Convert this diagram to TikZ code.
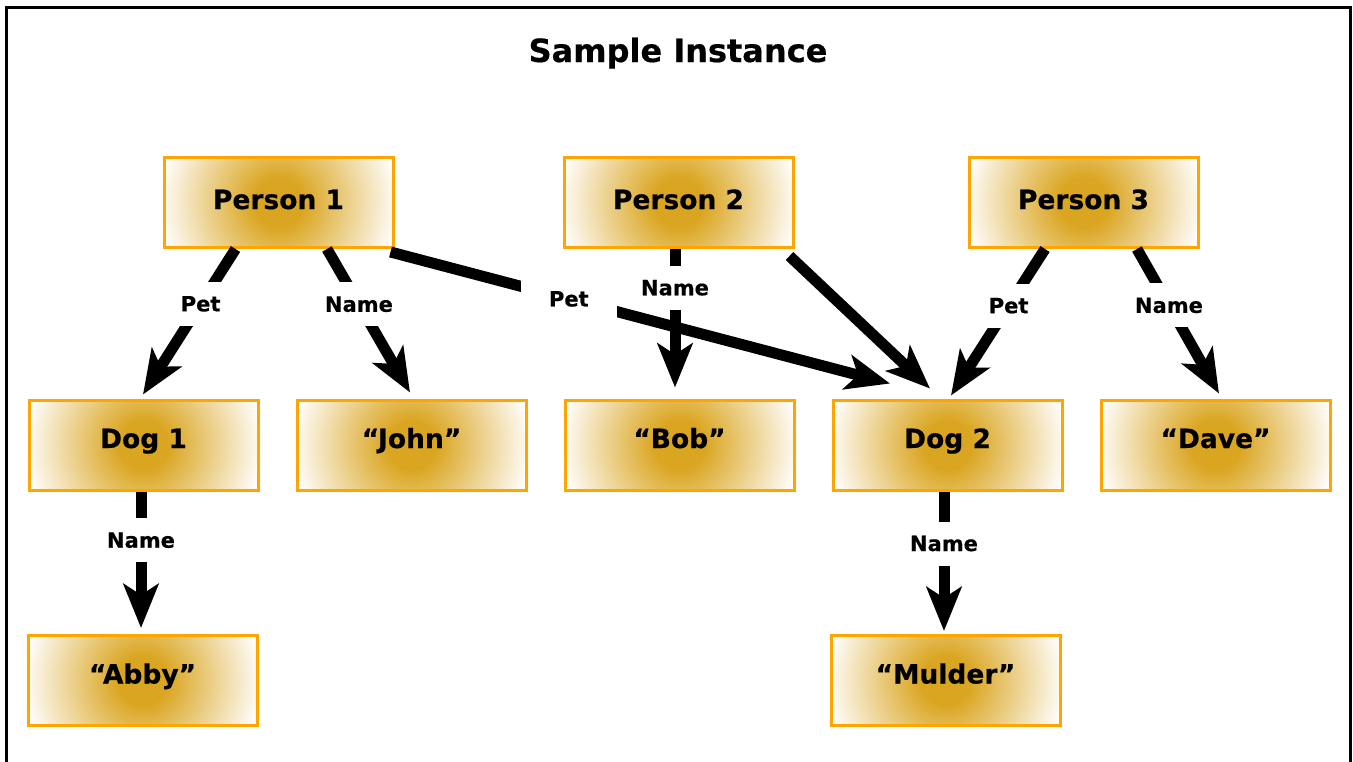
\documentclass[tikz,border=0pt]{standalone}
\usepackage{fontspec}
\setmainfont{DejaVu Sans}
\newfontfamily\heavy{DejaVu Sans Bold}[FakeBold=0.5]
\usetikzlibrary{arrows.meta,calc}
\definecolor{boxgold}{HTML}{DAA520}
\definecolor{boxline}{HTML}{FFA500}
\pgfdeclareradialshading{boxshade}{\pgfpointorigin}{color(0bp)=(boxgold); color(5bp)=(boxgold); color(25bp)=(white); color(50bp)=(white)}
\tikzset{
  item/.style={rectangle, draw=boxline, line width=3pt, minimum width=229pt, minimum height=90pt,
    inner sep=0pt, text height=20pt, text depth=14pt, font=\fontsize{26.5}{30}\selectfont\heavy,
    path picture={\shade[shading=boxshade] (path picture bounding box.center) circle[radius=121pt];}},
  person/.style={item, text depth=7pt},
  rel/.style={line width=11pt, -{Stealth[length=44pt,width=35pt,inset=11pt]}},
  lbl/.style={fill=white, minimum width=96pt, minimum height=44pt, inner sep=0pt,
    font=\fontsize{21}{24}\selectfont\heavy},
}
\begin{document}
\begin{tikzpicture}[x=1pt,y=-1pt]
\useasboundingbox (0,0) rectangle (1353,761);
\fill[white] (0,0) rectangle (1353,761);
\draw[line width=3pt] (6.5,800) -- (6.5,7.5) -- (1350.5,7.5) -- (1350.5,800);
\node[font=\fontsize{32}{38}\selectfont\heavy, anchor=base] (title) at (678,62) {Sample Instance};

\node[person] (p1) at (278.5,202.5) {Person 1};
\node[person] (p2) at (678.5,202.5) {Person 2};
\node[person] (p3) at (1083.5,202.5) {Person 3};
\node[item] (dog1) at (143.5,445) {Dog 1};
\node[item] (john) at (411.5,445) {“John”};
\node[item] (bob) at (679.5,445) {“Bob”};
\node[item] (dog2) at (947.5,445) {Dog 2};
\node[item] (dave) at (1215.5,445) {“Dave”};
\node[item] (abby) at (142.5,680.5) {“Abby”};
\node[item] (mulder) at (945.5,680.5) {“Mulder”};

\draw[rel] ($(p2.south)+(-3.5,0)$) -- node[lbl,pos=0.28,name=l4] {Name} ($(bob.north)+(-4.5,-11)$);
\draw[rel] ($(p1.south)+(-43,0)$) -- node[lbl,pos=0.377,name=l1] {Pet} ($(dog1.north)+(-0.5,-4)$);
\draw[rel] ($(p1.south)+(48.5,0)$) -- node[lbl,pos=0.385,name=l2] {Name} ($(john.north)+(-1.5,-6)$);
\draw[rel] ($(p1.south east)+(-4,3)$) -- node[lbl,pos=0.357,name=l3] {Pet} ($(dog2.north)+(-57.5,-15)$);
\draw[rel] ($(p2.south east)+(-5,7)$) -- ($(dog2.north)+(-17.5,-10)$);
\draw[rel] ($(p3.south)+(-38.5,0)$) -- node[lbl,pos=0.387,name=l5] {Pet} ($(dog2.north)+(3.5,-3)$);
\draw[rel] ($(p3.south)+(53.5,0)$) -- node[lbl,pos=0.39,name=l6] {Name} ($(dave.north)+(3.5,-5)$);
\draw[rel] ($(dog1.south)+(-2.5,0)$) -- node[lbl,pos=0.357,name=l7] {Name} ($(abby.north)+(-1.5,-6)$);
\draw[rel] ($(dog2.south)+(-3.5,0)$) -- node[lbl,pos=0.373,name=l8] {Name} ($(mulder.north)+(-1.5,-3)$);
\end{tikzpicture}
\end{document}
